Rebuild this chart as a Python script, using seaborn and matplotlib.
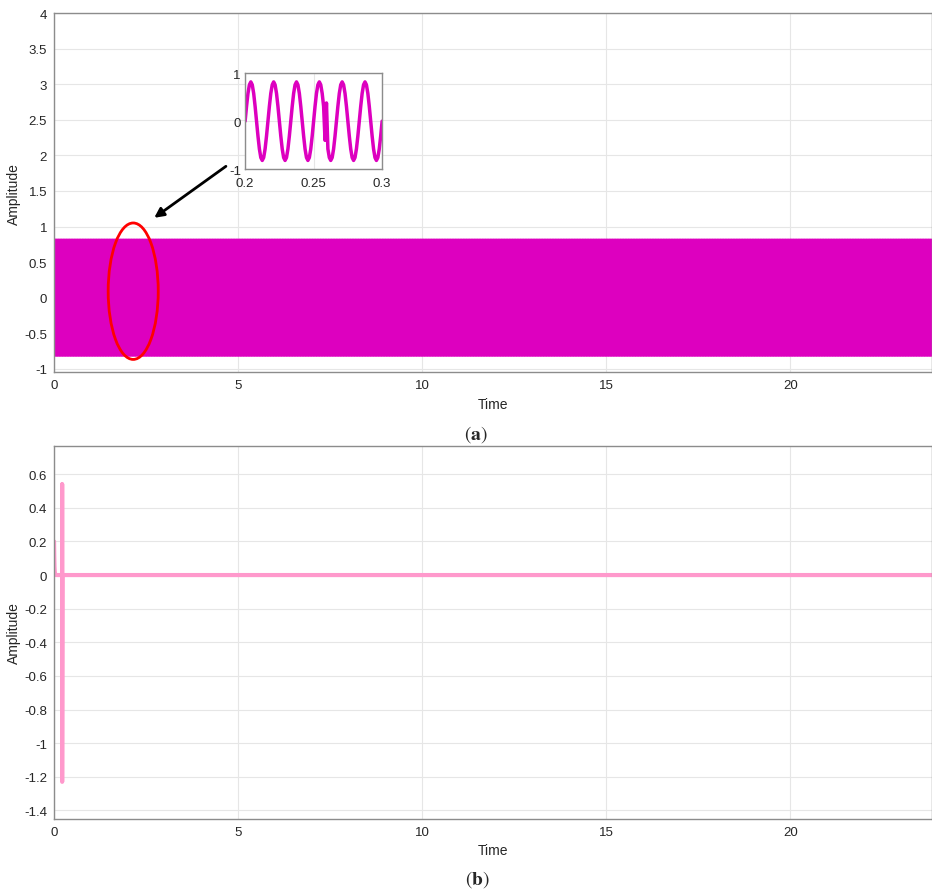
import numpy as np
import pandas as pd
import matplotlib
matplotlib.use("Agg")
import matplotlib.pyplot as plt
from matplotlib.patches import Ellipse
import seaborn as sns

# ---- data ----
# one 60 Hz cycle of the grid signal (16 samples), amplitude ~0.82
cycle_values = [0.0, 0.31, 0.58, 0.76, 0.82, 0.76, 0.58, 0.31,
                0.0, -0.31, -0.58, -0.76, -0.82, -0.76, -0.58, -0.31]
signal_freq = 60.0
t_end = 23.85
# small disturbance seen in the inset around t = 0.258 s
glitch_times = [0.2580, 0.2590]
glitch_values = [-0.40, 0.38]

# error / residual signal (panel b)
err_time = [0.0, 0.005, 0.012, 0.02, 0.03, 0.05, 0.22, 0.22, 0.22, 0.23, 5.0, 10.0, 15.0, 20.0, 23.85]
err_value = [0.20, 0.12, 0.05, 0.02, 0.005, 0.0, 0.0, 0.54, -1.23, 0.0, 0.0, 0.0, 0.0, 0.0, 0.0]

x_ticks = [0, 5, 10, 15, 20]
y_ticks_a = [-1, -0.5, 0, 0.5, 1, 1.5, 2, 2.5, 3, 3.5, 4]
y_ticks_b = [-1.4, -1.2, -1, -0.8, -0.6, -0.4, -0.2, 0, 0.2, 0.4, 0.6]

MAGENTA = "#DD00BF"
PINK = "#FF99CC"
EDGE = "#8c8c8c"

# build sampled signal by repeating the cycle
fs = signal_freq * len(cycle_values)
n_cycles = int(np.ceil(t_end * signal_freq)) + 1
sig = np.tile(cycle_values, n_cycles)
time = np.arange(len(sig)) / fs
for gt, gv in zip(glitch_times, glitch_values):
    sig[int(round(gt * fs))] = gv
df_sig = pd.DataFrame({"Time": time, "Amplitude": sig})
df_sig = df_sig[df_sig["Time"] <= t_end]
df_err = pd.DataFrame({"Time": err_time, "Amplitude": err_value})

sns.set_theme(style="whitegrid")
plt.rcParams["font.family"] = ["Liberation Sans", "DejaVu Sans"]
plt.rcParams["mathtext.fontset"] = "stix"
plt.rcParams["axes.unicode_minus"] = False


def matlab_axes(ax):
    ax.grid(True, color="#e6e6e6", linewidth=0.8)
    for s in ax.spines.values():
        s.set_color(EDGE)
        s.set_linewidth(1.0)
        s.set_visible(True)
    ax.tick_params(direction="in", length=5, width=0.8, color=EDGE,
                   labelsize=9.5, labelcolor="#262626", pad=5)
    ax.set_facecolor("white")


fig = plt.figure(figsize=(9.32, 8.95), dpi=100)
ax1 = fig.add_axes([0.058, 0.583, 0.942, 0.401])
ax2 = fig.add_axes([0.058, 0.084, 0.942, 0.417])

# ---- panel (a) ----
sns.lineplot(data=df_sig, x="Time", y="Amplitude", ax=ax1, color=MAGENTA,
             linewidth=1.0, estimator=None, sort=False)
ax1.set_xlim(0, t_end)
ax1.set_ylim(-1.05, 4)
ax1.set_xticks(x_ticks)
ax1.set_yticks(y_ticks_a)
ax1.set_yticklabels([f"{v:g}" for v in y_ticks_a])
ax1.set_xlabel("Time", fontsize=10, labelpad=4)
ax1.set_ylabel("Amplitude", fontsize=10, labelpad=2)
matlab_axes(ax1)

ax1.add_patch(Ellipse((2.15, 0.09), 1.36, 1.92, fill=False, edgecolor="red",
                      linewidth=2, zorder=5))
ax1.annotate("", xy=(2.66, 1.10), xytext=(4.73, 1.87),
             arrowprops=dict(arrowstyle="-|>", color="black", lw=2,
                             mutation_scale=14))

# inset
axin = fig.add_axes([0.263, 0.810, 0.147, 0.107])
df_zoom = df_sig[(df_sig["Time"] >= 0.2) & (df_sig["Time"] <= 0.3)]
sns.lineplot(data=df_zoom, x="Time", y="Amplitude", ax=axin, color=MAGENTA,
             linewidth=2.5, estimator=None, sort=False)
axin.set_xlim(0.2, 0.3)
axin.set_ylim(-1, 1)
axin.set_xticks([0.2, 0.25, 0.3])
axin.set_xticklabels(["0.2", "0.25", "0.3"])
axin.set_yticks([-1, 0, 1])
axin.set_xlabel("")
axin.set_ylabel("")
matlab_axes(axin)
axin.tick_params(length=3, labelsize=9.5)
axin.tick_params(axis="x", pad=6)
axin.tick_params(axis="y", pad=3)

# ---- panel (b) ----
sns.lineplot(data=df_err, x="Time", y="Amplitude", ax=ax2, color=PINK,
             linewidth=3, estimator=None, sort=False)
ax2.set_xlim(0, t_end)
ax2.set_ylim(-1.45, 0.77)
ax2.set_xticks(x_ticks)
ax2.set_yticks(y_ticks_b)
ax2.set_yticklabels([f"{v:g}" for v in y_ticks_b])
ax2.set_xlabel("Time", fontsize=10, labelpad=4)
ax2.set_ylabel("Amplitude", fontsize=10, labelpad=2)
matlab_axes(ax2)

fig.text(0.511, 0.514, r"($\mathbf{a}$)", ha="center", va="center",
         fontsize=14, family="STIXGeneral")
fig.text(0.512, 0.017, r"($\mathbf{b}$)", ha="center", va="center",
         fontsize=14, family="STIXGeneral")

fig.savefig("out.png", dpi=100)
